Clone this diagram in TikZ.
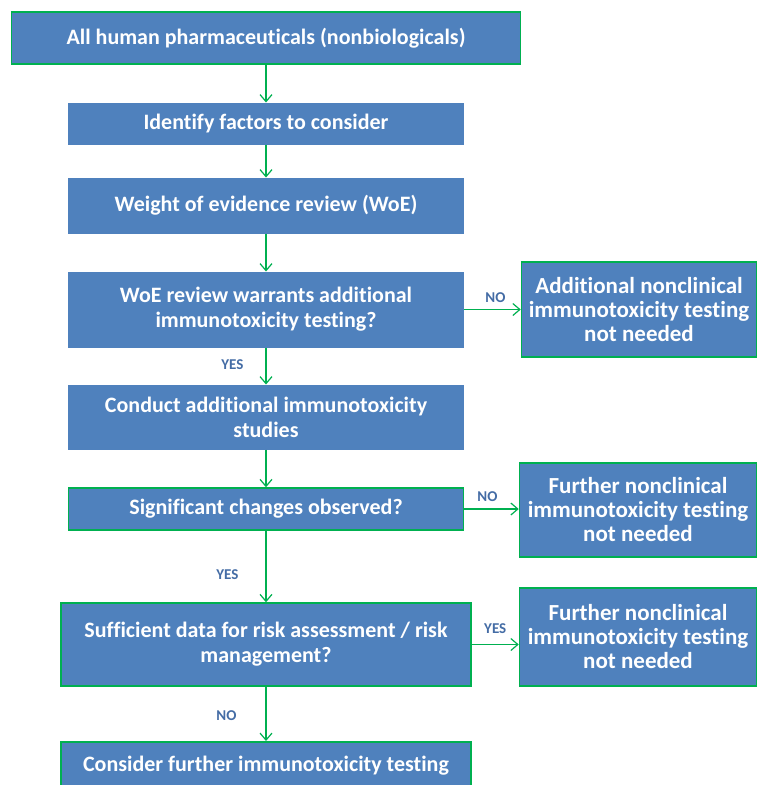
\documentclass[tikz,border=0pt]{standalone}
\usepackage{fontspec}
\setmainfont{Carlito}[Ligatures=NoCommon]
\usepackage{tikz}
\usetikzlibrary{arrows.meta,positioning}
\definecolor{boxblue}{RGB}{79,129,189}
\definecolor{linegreen}{RGB}{0,176,80}
\definecolor{labelblue}{RGB}{68,108,165}

\begin{document}
\begin{tikzpicture}[x=1pt, y=1pt,
    stepbox/.style={fill=boxblue, draw=boxblue, line width=1pt, inner sep=0pt,
        align=center, text=white, font=\fontsize{22}{25}\selectfont\bfseries},
    keybox/.style={stepbox, draw=linegreen, line width=1.5pt},
    sidebox/.style={keybox, font=\fontsize{23}{24}\selectfont\bfseries},
    flow/.style={draw=linegreen, line width=1.2pt, -{Straight Barb[length=7pt,width=12pt]}},
    lbl/.style={text=labelblue, font=\fontsize{15}{16}\selectfont\bfseries, inner sep=1pt}]
    \useasboundingbox (0,0) rectangle (757,-785);
    % main column
    \node[keybox, minimum width=509, minimum height=52] (pharma) at (266,-38)
        {All human pharmaceuticals (nonbiologicals)};
    \node[stepbox, minimum width=395, minimum height=41] (factors) at (266,-123.5)
        {Identify factors to consider};
    \node[stepbox, minimum width=395, minimum height=55] (woe) at (266,-205.5)
        {Weight of evidence review (WoE)};
    \node[stepbox, minimum width=395, minimum height=75] (warrant) at (266,-309.5)
        {WoE review warrants additional\\immunotoxicity testing?};
    \node[stepbox, minimum width=395, minimum height=64] (conduct) at (266,-417)
        {Conduct additional immunotoxicity\\studies};
    \node[keybox, minimum width=395, minimum height=42] (changes) at (266,-509)
        {Significant changes observed?};
    \node[keybox, minimum width=410, minimum height=83] (enough) at (266,-644.5)
        {Sufficient data for risk assessment / risk\\management?};
    \node[keybox, minimum width=410, minimum height=50, anchor=north] (further) at (266,-741) {};
    \node[text=white, font=\fontsize{22}{25}\selectfont\bfseries] (furthertxt) at (266,-766)
        {Consider further immunotoxicity testing};
    % side boxes
    \node[sidebox, minimum width=235, minimum height=95] (notneedA) at (639,-309.5)
        {Additional nonclinical\\immunotoxicity testing\\not needed};
    \node[sidebox, minimum width=237, minimum height=94] (notneedB) at (638,-510)
        {Further nonclinical\\immunotoxicity testing\\not needed};
    \node[sidebox, minimum width=237, minimum height=98] (notneedC) at (638,-637)
        {Further nonclinical\\immunotoxicity testing\\not needed};
    % connectors
    \draw[flow] (pharma.south) -- (factors.north);
    \draw[flow] (factors.south) -- (woe.north);
    \draw[flow] (woe.south) -- (warrant.north);
    \draw[flow] (warrant.south) -- node[lbl, pos=0.45, left=21pt] {YES} (conduct.north);
    \draw[flow] (conduct.south) -- (changes.north);
    \draw[flow] (changes.south) -- node[lbl, pos=0.62, left=26pt] {YES} (enough.north);
    \draw[flow] (enough.south) -- node[lbl, pos=0.53, left=28pt] {NO} (further.north);
    \draw[flow] (warrant.east) -- node[lbl, above=5pt, xshift=3pt] {NO} (warrant.east -| notneedA.west);
    \draw[flow] (changes.east) -- node[lbl, above=6pt, xshift=-4pt] {NO} (changes.east -| notneedB.west);
    \draw[flow] (enough.east) -- node[lbl, above=9pt] {YES} (enough.east -| notneedC.west);
\end{tikzpicture}
\end{document}
